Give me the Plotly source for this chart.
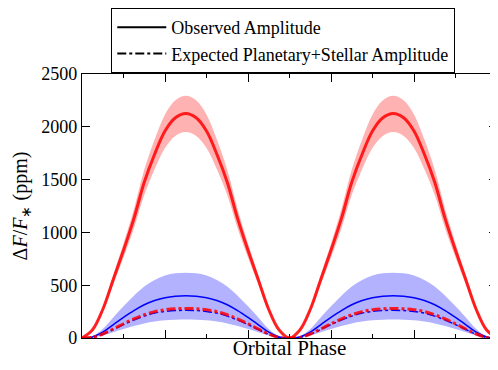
#!/usr/bin/env python3

import plotly.graph_objects as go

# Orbital phase samples
phase = [0.0, 0.025, 0.05, 0.075, 0.1, 0.125, 0.15, 0.175, 0.2, 0.225,
         0.25, 0.275, 0.3, 0.325, 0.35, 0.375, 0.4, 0.425, 0.45, 0.475,
         0.5, 0.525, 0.55, 0.575, 0.6, 0.625, 0.65, 0.675, 0.7, 0.725,
         0.75, 0.775, 0.8, 0.825, 0.85, 0.875, 0.9, 0.925, 0.95, 0.975, 1.0]

# Observed amplitude, red (ppm)
red_obs = [0, 75, 270, 550, 830, 1130, 1475, 1740, 1960, 2085,
           2125, 2085, 1960, 1740, 1475, 1130, 830, 550, 270, 75,
           0, 75, 270, 550, 830, 1130, 1475, 1740, 1960, 2085,
           2125, 2085, 1960, 1740, 1475, 1130, 830, 550, 270, 75, 0]
red_upper = [0, 81, 292, 594, 896, 1220, 1593, 1879, 2117, 2252,
             2295, 2252, 2117, 1879, 1593, 1220, 896, 594, 292, 81,
             0, 81, 292, 594, 896, 1220, 1593, 1879, 2117, 2252,
             2295, 2252, 2117, 1879, 1593, 1220, 896, 594, 292, 81, 0]
red_lower = [0, 69, 248, 505, 762, 1037, 1354, 1597, 1799, 1914,
             1951, 1914, 1799, 1597, 1354, 1037, 762, 505, 248, 69,
             0, 69, 248, 505, 762, 1037, 1354, 1597, 1799, 1914,
             1951, 1914, 1799, 1597, 1354, 1037, 762, 505, 248, 69, 0]

# Observed amplitude, blue (ppm)
blue_obs = [0, 10, 55, 125, 195, 260, 315, 355, 382, 396,
            400, 396, 382, 355, 315, 260, 195, 125, 55, 10,
            0, 10, 55, 125, 195, 260, 315, 355, 382, 396,
            400, 396, 382, 355, 315, 260, 195, 125, 55, 10, 0]
blue_upper = [0, 16, 85, 195, 300, 400, 488, 550, 592, 612,
              618, 612, 592, 550, 488, 400, 300, 195, 85, 16,
              0, 16, 85, 195, 300, 400, 488, 550, 592, 612,
              618, 612, 592, 550, 488, 400, 300, 195, 85, 16, 0]
blue_lower = [0, 4, 24, 55, 86, 114, 138, 156, 168, 174,
              176, 174, 168, 156, 138, 114, 86, 55, 24, 4,
              0, 4, 24, 55, 86, 114, 138, 156, 168, 174,
              176, 174, 168, 156, 138, 114, 86, 55, 24, 4, 0]

# Expected planetary+stellar amplitude (ppm)
red_expected = [0, 6, 38, 85, 135, 180, 220, 250, 268, 277,
                280, 277, 268, 250, 220, 180, 135, 85, 38, 6,
                0, 6, 38, 85, 135, 180, 220, 250, 268, 277,
                280, 277, 268, 250, 220, 180, 135, 85, 38, 6, 0]
blue_expected = [0, 5, 35, 80, 127, 170, 207, 236, 252, 260,
                 262, 260, 252, 236, 207, 170, 127, 80, 35, 5,
                 0, 5, 35, 80, 127, 170, 207, 236, 252, 260,
                 262, 260, 252, 236, 207, 170, 127, 80, 35, 5, 0]

y_ticks = [0, 500, 1000, 1500, 2000, 2500]

FONT = "Liberation Serif"


def add_band(fig, lower, upper, color):
    fig.add_trace(go.Scatter(x=phase, y=lower, mode='lines', line=dict(width=0, shape='spline'),
                             showlegend=False, hoverinfo='skip'))
    fig.add_trace(go.Scatter(x=phase, y=upper, mode='lines', line=dict(width=0, shape='spline'),
                             fill='tonexty', fillcolor=color, showlegend=False, hoverinfo='skip'))


def build_figure():
    fig = go.Figure()

    add_band(fig, red_lower, red_upper, 'rgba(255,0,0,0.3)')
    add_band(fig, blue_lower, blue_upper, 'rgba(0,0,255,0.3)')

    fig.add_trace(go.Scatter(x=phase, y=blue_obs, mode='lines', showlegend=False,
                             line=dict(color='blue', width=1.5, shape='spline')))
    fig.add_trace(go.Scatter(x=phase, y=blue_expected, mode='lines', showlegend=False,
                             line=dict(color='blue', width=1.5, dash='dashdot', shape='spline')))
    fig.add_trace(go.Scatter(x=phase, y=red_expected, mode='lines', showlegend=False,
                             line=dict(color='rgba(255,0,0,0.85)', width=3, dash='dashdot', shape='spline')))
    fig.add_trace(go.Scatter(x=phase, y=red_obs, mode='lines', showlegend=False,
                             line=dict(color='rgba(255,0,0,0.85)', width=3, shape='spline')))

    # legend entries only
    fig.add_trace(go.Scatter(x=[None], y=[None], mode='lines', name='Observed Amplitude',
                             line=dict(color='black', width=2)))
    fig.add_trace(go.Scatter(x=[None], y=[None], mode='lines', name='Expected Planetary+Stellar Amplitude',
                             line=dict(color='black', width=2, dash='dashdot')))

    axis_common = dict(showgrid=False, zeroline=False, showline=True, linecolor='black',
                       linewidth=1.2, mirror='ticks', ticks='inside', tickcolor='black',
                       automargin=False)

    fig.update_xaxes(range=[0, 1], tickvals=[0.2, 0.4, 0.6, 0.8], ticklen=8,
                     showticklabels=False,
                     minor=dict(tickvals=[0.1, 0.3, 0.5, 0.7, 0.9], ticklen=4, ticks='inside',
                                tickcolor='black'),
                     title=dict(text='Orbital Phase', standoff=2, font=dict(size=21)),
                     **axis_common)
    fig.update_yaxes(range=[0, 2500], tickvals=y_ticks, ticklen=8,
                     title=dict(text='Δ<i>F</i>/<i>F</i><sub>∗</sub> (ppm)', standoff=8,
                                font=dict(size=20)),
                     **axis_common)

    fig.update_layout(
        width=498, height=370,
        plot_bgcolor='white', paper_bgcolor='white',
        font=dict(family=FONT, size=18, color='black'),
        margin=dict(l=74, r=9, t=66, b=40),
        legend=dict(x=0.485, xanchor='center', xref='paper', y=1.0, yanchor='top', yref='container',
                    bordercolor='black', borderwidth=1, bgcolor='white', traceorder='normal',
                    font=dict(size=18), tracegroupgap=0, itemwidth=49),
    )
    return fig


def main():
    fig = build_figure()
    fig.write_html("out.html")


if __name__ == '__main__':
    main()
